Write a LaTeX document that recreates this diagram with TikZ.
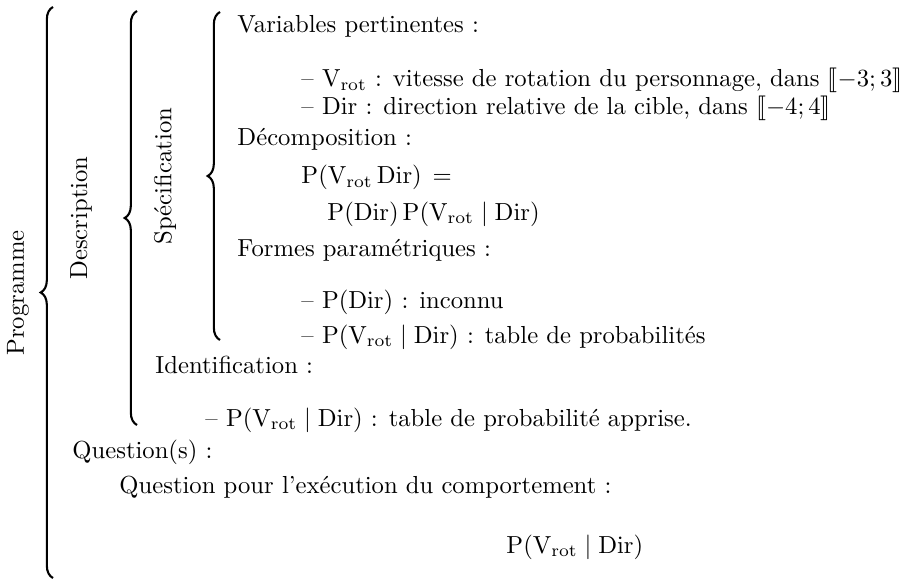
\documentclass[tikz,border=0pt]{standalone}
\usepackage{amsmath}
\usepackage{stmaryrd}
\usetikzlibrary{decorations.pathreplacing}

\tikzset{
  txt/.style={anchor=base west, inner sep=0pt},
  grp/.style={decorate, decoration={brace, amplitude=5pt}, line width=0.85pt},
  side/.style={rotate=90, inner sep=0pt},
}
\newcommand{\Vr}{\mathrm{V_{rot}}}
\newcommand{\Dr}{\mathrm{Dir}}

\begin{document}
\begin{tikzpicture}[x=0.4057pt, y=-0.4057pt]
  \useasboundingbox (0,0) rectangle (903,581);

  % --- braces: programme / description / specification
  \draw[grp] (53,578) -- (53,7);
  \draw[grp] (137,425) -- (137,11);
  \draw[grp] (220,340) -- (220,12);

  % --- side labels
  \node[side] (prog) at (18,293) {Programme};
  \node[side] (desc) at (81,218) {Description};
  \node[side] (spec) at (165,176) {Spécification};

  % --- specification
  \node[txt] (varp) at (237,33) {Variables pertinentes :};
  \node[txt] (var1) at (301,87) {-- $\Vr$ : vitesse de rotation du personnage, dans $\llbracket -3 ; 3 \rrbracket$};
  \node[txt] (var2) at (301,115) {-- $\Dr$ : direction relative de la cible, dans $\llbracket -4 ; 4 \rrbracket$};
  \node[txt] (decomp) at (237,145) {Décomposition :};
  \node[txt] (joint) at (301,184) {$\mathrm{P}(\Vr\,\Dr)\,=$};
  \node[txt] (prod) at (327,220) {$\mathrm{P}(\Dr)\,\mathrm{P}(\Vr \mid \Dr)$};
  \node[txt] (forms) at (237,256) {Formes paramétriques :};
  \node[txt] (form1) at (301,308) {-- $\mathrm{P}(\Dr)$ : inconnu};
  \node[txt] (form2) at (301,343) {-- $\mathrm{P}(\Vr \mid \Dr)$ : table de probabilités};

  % --- identification
  \node[txt] (ident) at (155,373) {Identification :};
  \node[txt] (learn) at (205,426) {-- $\mathrm{P}(\Vr \mid \Dr)$ : table de probabilité apprise.};

  % --- question
  \node[txt] (quest) at (72,458) {Question(s) :};
  \node[txt] (qexec) at (119,493) {Question pour l'exécution du comportement :};
  \node[txt] (query) at (506,553) {$\mathrm{P}(\Vr \mid \Dr)$};
\end{tikzpicture}
\end{document}
